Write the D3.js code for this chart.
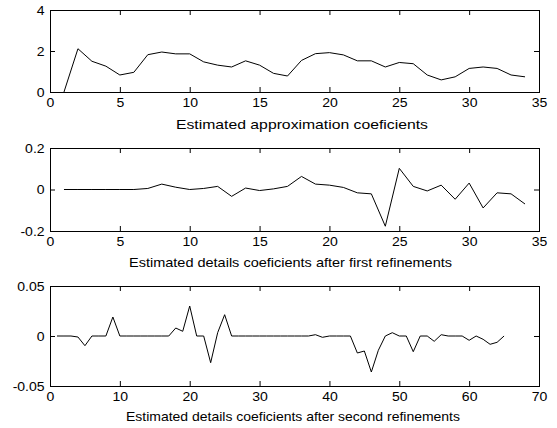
<!DOCTYPE html>
<html>
<head>
<meta charset="utf-8">
<script src="https://cdn.jsdelivr.net/npm/d3@7"></script>
<style>
  html, body { margin: 0; padding: 0; background: #fff; }
  svg { display: block; }
  text { font-family: "Liberation Sans", Arial, Helvetica, sans-serif; fill: #000; }
</style>
</head>
<body>
<svg id="chart" width="557" height="428"></svg>
<script>
// Approximation coefficients (index 1..34)
const approxValues = [0, 2.11, 1.50, 1.26, 0.83, 0.96, 1.82, 1.95, 1.86, 1.86,
  1.47, 1.31, 1.22, 1.52, 1.31, 0.91, 0.78, 1.54, 1.87, 1.92,
  1.81, 1.52, 1.52, 1.22, 1.44, 1.38, 0.83, 0.59, 0.74, 1.15,
  1.22, 1.15, 0.83, 0.74];

// Detail coefficients after the first refinement (index 1..34)
const detail1Values = [0, 0, 0, 0, 0, 0, 0.005, 0.026, 0.011, 0,
  0.005, 0.015, -0.033, 0.007, -0.005, 0.003, 0.015, 0.063, 0.026, 0.021,
  0.010, -0.016, -0.021, -0.177, 0.102, 0.015, -0.007, 0.021, -0.047, 0.031,
  -0.089, -0.016, -0.021, -0.070];

// Detail coefficients after the second refinement (index 1..65)
const detail2Values = [0, 0, 0, -0.001, -0.0097, 0, 0, 0, 0.019, 0,
  0, 0, 0, 0, 0, 0, 0, 0.008, 0.0047, 0.030,
  0, 0, -0.0267, 0.0033, 0.0213, 0, 0, 0, 0, 0,
  0, 0, 0, 0, 0, 0, 0, 0.0013, -0.0013, 0,
  0, 0, 0, -0.017, -0.015, -0.036, -0.0143, 0, 0.0033, 0,
  0, -0.0157, 0, 0, -0.0053, 0.0013, 0, 0, 0, -0.0043,
  0, -0.0033, -0.0083, -0.0063, 0];

const titles = [
  "Estimated approximation coeficients",
  "Estimated details coeficients after first refinements",
  "Estimated details coeficients after second refinements"
];

const xTicks1 = [0, 5, 10, 15, 20, 25, 30, 35];
const xTicks3 = [0, 10, 20, 30, 40, 50, 60, 70];
const yTicks1 = [0, 2, 4];
const yTicks2 = [-0.2, 0, 0.2];
const yTicks3 = [-0.05, 0, 0.05];

const panels = [
  { values: approxValues, xDomain: [0, 35], xTicks: xTicks1, yDomain: [0, 4], yTicks: yTicks1,
    top: 10, bottom: 92, title: titles[0], titleX: 302, titleY: 129, titleW: 252 },
  { values: detail1Values, xDomain: [0, 35], xTicks: xTicks1, yDomain: [-0.2, 0.2], yTicks: yTicks2,
    top: 148, bottom: 231, title: titles[1], titleX: 290.5, titleY: 266.5, titleW: 323 },
  { values: detail2Values, xDomain: [0, 70], xTicks: xTicks3, yDomain: [-0.05, 0.05], yTicks: yTicks3,
    top: 286, bottom: 386, title: titles[2], titleX: 293, titleY: 420.5, titleW: 334 }
];

const left = 50, right = 539;
const fontSize = 13;
const tickStretch = 1.08;
const fmt = d => String(d);
const svg = d3.select("#chart");

panels.forEach(p => {
  const x = d3.scaleLinear().domain(p.xDomain).range([left, right]);
  const y = d3.scaleLinear().domain(p.yDomain).range([p.bottom, p.top]);
  const g = svg.append("g");

  const style = sel => {
    sel.select(".domain").remove();
    sel.selectAll(".tick line").attr("stroke", "#000").attr("stroke-width", 1);
    sel.selectAll("text")
      .attr("font-size", fontSize).attr("font-family", null).attr("fill", "#000")
      .attr("transform", `scale(${tickStretch},1)`);
  };

  g.append("g").attr("transform", `translate(0,${p.bottom})`)
    .call(d3.axisBottom(x).tickValues(p.xTicks).tickFormat(fmt).tickSizeInner(-5).tickSizeOuter(0).tickPadding(6))
    .call(style);
  g.append("g").attr("transform", `translate(0,${p.top})`)
    .call(d3.axisTop(x).tickValues(p.xTicks).tickFormat("").tickSizeInner(-5).tickSizeOuter(0))
    .call(style);
  g.append("g").attr("transform", `translate(${left},0)`)
    .call(d3.axisLeft(y).tickValues(p.yTicks).tickFormat(fmt).tickSizeInner(-5).tickSizeOuter(0).tickPadding(5))
    .call(style);
  g.append("g").attr("transform", `translate(${right},0)`)
    .call(d3.axisRight(y).tickValues(p.yTicks).tickFormat("").tickSizeInner(-5).tickSizeOuter(0))
    .call(style);

  g.append("rect")
    .attr("x", left + 0.5).attr("y", p.top + 0.5)
    .attr("width", right - left).attr("height", p.bottom - p.top)
    .attr("fill", "none").attr("stroke", "#000").attr("stroke-width", 1);

  const line = d3.line().x((d, i) => x(i + 1)).y(d => y(d));
  g.append("path").datum(p.values)
    .attr("d", line)
    .attr("fill", "none").attr("stroke", "#000").attr("stroke-width", 1);

  g.append("text")
    .attr("x", p.titleX).attr("y", p.titleY)
    .attr("text-anchor", "middle").attr("font-size", fontSize)
    .attr("textLength", p.titleW).attr("lengthAdjust", "spacingAndGlyphs")
    .text(p.title);
});
</script>
</body>
</html>
